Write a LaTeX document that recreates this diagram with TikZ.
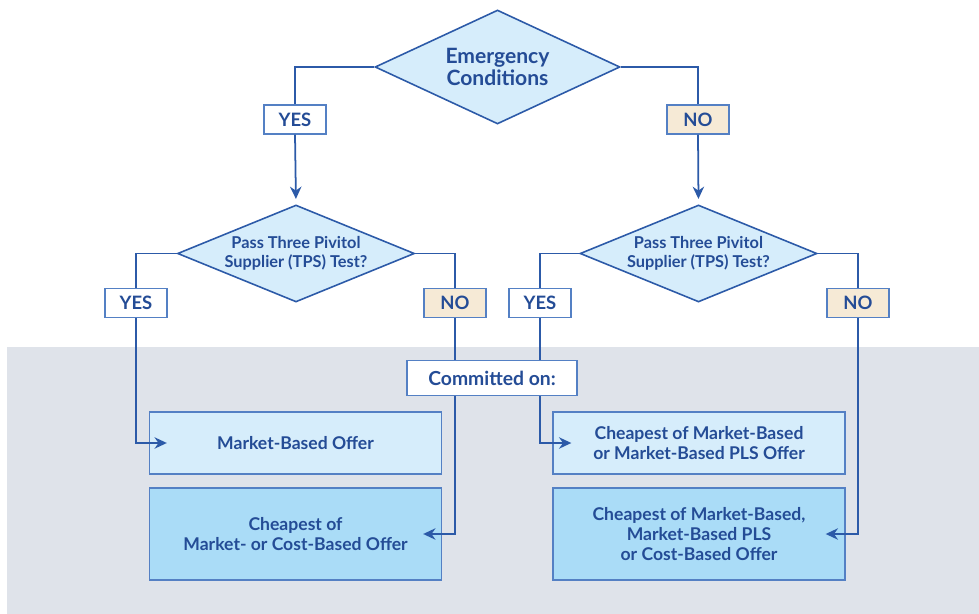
\documentclass[tikz,border=0pt]{standalone}
\usepackage{fontspec}
\setmainfont{Lato}
\usepackage{xcolor}
\usetikzlibrary{positioning, arrows.meta, shapes.geometric}

\definecolor{lineblue}{RGB}{44,90,168}
\definecolor{textblue}{RGB}{36,76,150}
\definecolor{edgeblue}{RGB}{84,128,196}
\definecolor{paleblue}{RGB}{214,237,251}
\definecolor{midblue}{RGB}{170,220,247}
\definecolor{sand}{RGB}{246,234,214}
\definecolor{panelgray}{RGB}{223,227,234}

\begin{document}
\begin{tikzpicture}[
    x=0.02cm, y=-0.02cm,
    decision/.style={diamond, draw=lineblue, fill=paleblue, line width=0.9pt, inner sep=0pt, align=center, text=textblue, font=\bfseries},
    answer/.style={rectangle, draw=edgeblue, line width=0.8pt, minimum width=1.24cm, minimum height=0.58cm, inner sep=0pt, text=textblue, font=\bfseries\fontsize{10.5}{12}\selectfont},
    yesbox/.style={answer, fill=white},
    nobox/.style={answer, fill=sand},
    offer/.style={rectangle, draw=edgeblue, line width=0.8pt, fill=paleblue, minimum width=5.84cm, minimum height=1.24cm, align=center, text=textblue, font=\bfseries\fontsize{10}{11.4}\selectfont},
    offerbig/.style={offer, fill=midblue, minimum height=1.84cm},
    link/.style={draw=lineblue, line width=1pt},
    flow/.style={link, -{Stealth[length=7pt, width=6.5pt]}}
]

\useasboundingbox (0,0) rectangle (979,614);
\fill[panelgray] (7,347) rectangle (979,614);

% Decisions
\node[decision, aspect=2.15, minimum width=4.9cm, minimum height=2.28cm, font=\bfseries\fontsize{12}{13}\selectfont] (emergency) at (497.5,67) {Emergency\\Conditions};
\node[decision, aspect=2.44, minimum width=4.74cm, minimum height=1.94cm, font=\bfseries\fontsize{9.3}{10.8}\selectfont] (tpsleft) at (296,253.5) {Pass Three Pivitol\\Supplier (TPS) Test?};
\node[decision, aspect=2.44, minimum width=4.74cm, minimum height=1.94cm, font=\bfseries\fontsize{9.3}{10.8}\selectfont] (tpsright) at (698.5,253.5) {Pass Three Pivitol\\Supplier (TPS) Test?};

% Answers
\node[yesbox] (yestop) at (295,119.5) {YES};
\node[nobox] (notop) at (698,119.5) {NO};
\node[yesbox] (yesleft) at (136,303) {YES};
\node[nobox] (noleft) at (455,303) {NO};
\node[yesbox] (yesright) at (540,303) {YES};
\node[nobox] (noright) at (858,303) {NO};

% Offers
\node[offer] (marketoffer) at (295.5,443) {Market-Based Offer};
\node[offerbig] (costoffer) at (295.5,534) {Cheapest of\\Market- or Cost-Based Offer};
\node[offer] (plsoffer) at (699,443) {Cheapest of Market-Based\\or Market-Based PLS Offer};
\node[offerbig] (alloffer) at (699,534) {Cheapest of Market-Based,\\Market-Based PLS\\or Cost-Based Offer};

% Connectors
\draw[link] (emergency.west) -| (yestop.north);
\draw[link] (emergency.east) -| (notop.north);
\draw[flow, shorten >=3pt] (yestop.south) -- (tpsleft.north);
\draw[flow, shorten >=3pt] (notop.south) -- (tpsright.north);
\draw[link] (tpsleft.west) -| (yesleft.north);
\draw[link] (tpsleft.east) -| (noleft.north);
\draw[link] (tpsright.west) -| (yesright.north);
\draw[link] (tpsright.east) -| (noright.north);
\draw[flow] (yesleft.south) |- ([xshift=0.36cm]marketoffer.west);
\draw[flow] (noleft.south) |- ([xshift=-0.38cm]costoffer.east);
\draw[flow] (yesright.south) |- ([xshift=0.38cm]plsoffer.west);
\draw[flow] (noright.south) |- ([xshift=-0.4cm]alloffer.east);

% Label over the two middle lines
\node[rectangle, draw=edgeblue, line width=0.8pt, fill=white, minimum width=3.4cm, minimum height=0.7cm, text=textblue, font=\bfseries\fontsize{11}{13}\selectfont] (committed) at (492,378) {Committed on:};

\end{tikzpicture}
\end{document}
